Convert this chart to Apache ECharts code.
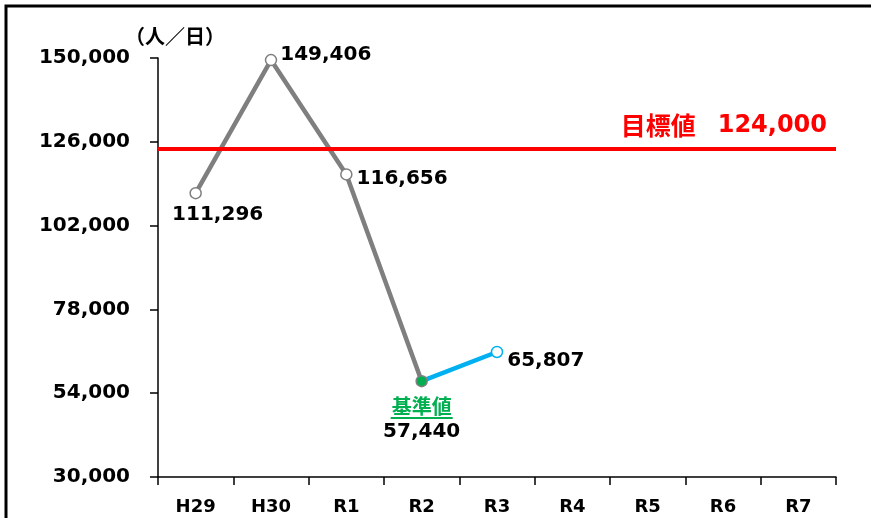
<!DOCTYPE html>
<html>
<head>
<meta charset="utf-8">
<script src="https://cdn.jsdelivr.net/npm/echarts@6/dist/echarts.min.js"></script>
<style>html,body{margin:0;padding:0;background:#fff;}#c{width:871px;height:518px;}</style>
</head>
<body>
<div id="c"></div>
<script>
const categories = ['H29','H30','R1','R2','R3','R4','R5','R6','R7'];
const actualValues = [111296, 149406, 116656, 57440, null, null, null, null, null];
const recentValues = [null, null, null, 57440, 65807, null, null, null, null];
const targetValue = 124000;
const yTicks = [30000, 54000, 78000, 102000, 126000, 150000];
const unitLabel = '（人／日）';
const baseLabel = '基準値';
const targetLabel = '目標値';

const numFont = 'DejaVu Sans, Noto Sans CJK JP, sans-serif';
const jpFont = 'Noto Sans CJK JP, sans-serif';
const fmt = v => String(v).replace(/\B(?=(\d{3})+(?!\d))/g, ',');

const labelBase = {show: true, color: '#000', fontFamily: numFont, fontWeight: 'bold', fontSize: 20, formatter: p => fmt(p.value)};
const grayLabels = [
  {position: 'bottom', distance: 5, offset: [22, 0]},
  {position: 'right', distance: 3, offset: [0, -5]},
  {position: 'right', distance: 4, offset: [0, 4]},
  {position: 'bottom', distance: 8, formatter: p => '{a|' + baseLabel + '}\n{u|}\n{b|' + fmt(p.value) + '}',
    rich: {
      a: {color: '#00B050', fontFamily: jpFont, fontWeight: 'bold', fontSize: 20, lineHeight: 21},
      u: {width: 62, height: 2, backgroundColor: '#00B050', lineHeight: 3},
      b: {color: '#000', fontFamily: numFont, fontWeight: 'bold', fontSize: 20, lineHeight: 24}
    }}
];

const grayData = actualValues.map((v, i) => {
  if (v === null) return null;
  const item = {value: v, label: Object.assign({}, labelBase, grayLabels[i] || {})};
  if (i === 3) item.itemStyle = {color: '#00B050', borderColor: '#7f7f7f', borderWidth: 1.5};
  return item;
});
const blueData = recentValues.map((v, i) => {
  if (v === null) return null;
  if (i === 3) return {value: v, symbol: 'none', label: {show: false}};
  return {value: v, label: Object.assign({}, labelBase, {position: 'right', distance: 4, offset: [0, 9]})};
});

const chart = echarts.init(document.getElementById('c'));
chart.setOption({
  animation: false,
  backgroundColor: '#fff',
  grid: {left: 158, right: 35, top: 58, bottom: 41},
  graphic: [
    {type: 'rect', shape: {x: 6, y: 6, width: 1000, height: 1000}, style: {fill: 'none', stroke: '#000', lineWidth: 3}, silent: true},
    {type: 'text', left: 125, top: 26, style: {text: unitLabel, font: 'bold 20px ' + jpFont, fill: '#000'}}
  ],
  xAxis: {
    type: 'category',
    data: categories,
    boundaryGap: true,
    axisLine: {lineStyle: {color: '#000', width: 1.5}},
    axisTick: {show: true, length: 8, lineStyle: {color: '#000', width: 1.5}},
    axisLabel: {color: '#000', fontFamily: numFont, fontWeight: 'bold', fontSize: 18, margin: 21}
  },
  yAxis: {
    type: 'value',
    min: 30000,
    max: 150000,
    axisLine: {show: true, lineStyle: {color: '#000', width: 1.5}},
    axisTick: {show: true, length: 8, inside: false, customValues: yTicks, lineStyle: {color: '#000', width: 1.5}},
    axisLabel: {color: '#000', fontFamily: numFont, fontWeight: 'bold', fontSize: 20, margin: 28, customValues: yTicks, formatter: v => fmt(v)},
    splitLine: {show: false}
  },
  series: [
    {
      type: 'line',
      data: blueData,
      z: 2,
      symbol: 'circle',
      symbolSize: 11,
      itemStyle: {color: '#fff', borderColor: '#00B0F0', borderWidth: 1.5},
      lineStyle: {color: '#00B0F0', width: 4.5},
      markLine: {
        silent: true,
        symbol: 'none',
        data: [{yAxis: targetValue}],
        lineStyle: {color: '#FF0000', width: 4, type: 'solid'},
        label: {
          show: true,
          position: 'insideEndTop',
          distance: [9, 11],
          formatter: '{a|' + targetLabel + '}{b|' + fmt(targetValue) + '}',
          rich: {
            a: {color: '#FF0000', fontFamily: jpFont, fontWeight: 'bold', fontSize: 25, padding: [0, 22, 0, 0]},
            b: {color: '#FF0000', fontFamily: numFont, fontWeight: 'bold', fontSize: 24}
          }
        }
      }
    },
    {
      type: 'line',
      data: grayData,
      z: 3,
      symbol: 'circle',
      symbolSize: 11,
      itemStyle: {color: '#fff', borderColor: '#7f7f7f', borderWidth: 1.5},
      lineStyle: {color: '#7f7f7f', width: 4.5}
    }
  ]
});
</script>
</body>
</html>
